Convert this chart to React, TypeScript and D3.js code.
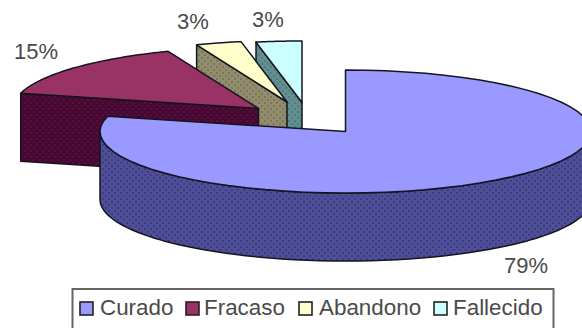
import React from "react";
import * as d3 from "d3";

// Tratamiento outcome shares, in percent
const categories = ["Curado", "Fracaso", "Abandono", "Fallecido"];
const shares = [79, 15, 3, 3];
const percentLabels = ["79%", "15%", "3%", "3%"];
const topColors = ["#9999ff", "#993366", "#ffffcc", "#ccffff"];
const sideColors = ["#4f4f98", "#470832", "#918d6e", "#628f8f"];
const sideDots = ["#3c3c84", "#560f3e", "#7a7759", "#527c7c"];

const WIDTH = 582;
const HEIGHT = 328;
const RX = 245.5;
const RY = 61.5;
const DEPTH = 68;

// Exploded wedge apexes on the tilted plane
const apexes: [number, number][] = [
  [345.5, 131.5],
  [258.5, 108.5],
  [287, 102],
  [302, 102.5],
];
const labelPositions: [number, number][] = [
  [526, 273],
  [36, 59],
  [193, 29],
  [268, 27],
];
const legendSwatchX = [80, 186, 299, 434];
const legendTextX = [100, 204, 319, 453];

const arcs = d3.pie<number>().sort(null).startAngle(0).endAngle(2 * Math.PI)(shares);
const lineGen = d3.line<[number, number]>();

const rimPoint = (apex: [number, number], t: number, drop = 0): [number, number] => [
  apex[0] + RX * Math.sin(t),
  apex[1] - RY * Math.cos(t) + drop,
];

const sampleRim = (apex: [number, number], a: number, b: number, drop = 0) =>
  d3.range(0, 61).map((i) => rimPoint(apex, a + ((b - a) * i) / 60, drop));

export default function App() {
  // Back wedges are painted first so nearer ones cover them
  const drawOrder = [3, 2, 1, 0];
  return (
    <svg
      width={WIDTH}
      height={HEIGHT}
      viewBox={`0 0 ${WIDTH} ${HEIGHT}`}
      style={{ position: "absolute", left: 0, top: 0, background: "#fff" }}
      fontFamily="'Liberation Sans', Arial, sans-serif"
    >
      <defs>
        {categories.map((c, i) => (
          <pattern key={c} id={`dither-${i}`} width={6} height={6} patternUnits="userSpaceOnUse">
            <rect width={6} height={6} fill={sideColors[i]} />
            <rect x={0} y={0} width={2} height={2} fill={sideDots[i]} />
            <rect x={3} y={3} width={2} height={2} fill={sideDots[i]} />
          </pattern>
        ))}
      </defs>

      {drawOrder.map((i) => {
        const apex = apexes[i];
        const { startAngle, endAngle } = arcs[i];
        const top = [apex, ...sampleRim(apex, startAngle, endAngle)] as [number, number][];
        const faces: [number, number][][] = [];
        if (i === 0) {
          // Outer wall of the large wedge: only the front half of the rim shows
          const a = Math.PI / 2;
          const b = (3 * Math.PI) / 2;
          faces.push([...sampleRim(apex, a, b), ...sampleRim(apex, a, b, DEPTH).reverse()]);
        } else {
          // Cut face of an exploded wedge, seen along its leading edge
          const rim = rimPoint(apex, startAngle);
          const rimLow = rimPoint(apex, startAngle, DEPTH);
          faces.push([rim, apex, [apex[0], apex[1] + DEPTH], rimLow]);
        }
        return (
          <g key={categories[i]} stroke="#15151f" strokeWidth={1.5} strokeLinejoin="round">
            {faces.map((f, k) => (
              <path key={k} d={`${lineGen(f)}Z`} fill={`url(#dither-${i})`} />
            ))}
            <path d={`${lineGen(top)}Z`} fill={topColors[i]} />
          </g>
        );
      })}

      {percentLabels.map((t, i) => (
        <text
          key={i}
          x={labelPositions[i][0]}
          y={labelPositions[i][1]}
          textAnchor="middle"
          fontSize={22}
          fill="#4a4a4a"
        >
          {t}
        </text>
      ))}

      <rect x={72.5} y={289} width={481} height={50} fill="#fff" stroke="#666" strokeWidth={2} />
      {categories.map((c, i) => (
        <g key={c}>
          <rect
            x={legendSwatchX[i]}
            y={302}
            width={13}
            height={13}
            fill={topColors[i]}
            stroke="#222"
            strokeWidth={1.6}
          />
          <text x={legendTextX[i]} y={315} fontSize={22.4} fill="#4a4a4a">
            {c}
          </text>
        </g>
      ))}
    </svg>
  );
}
